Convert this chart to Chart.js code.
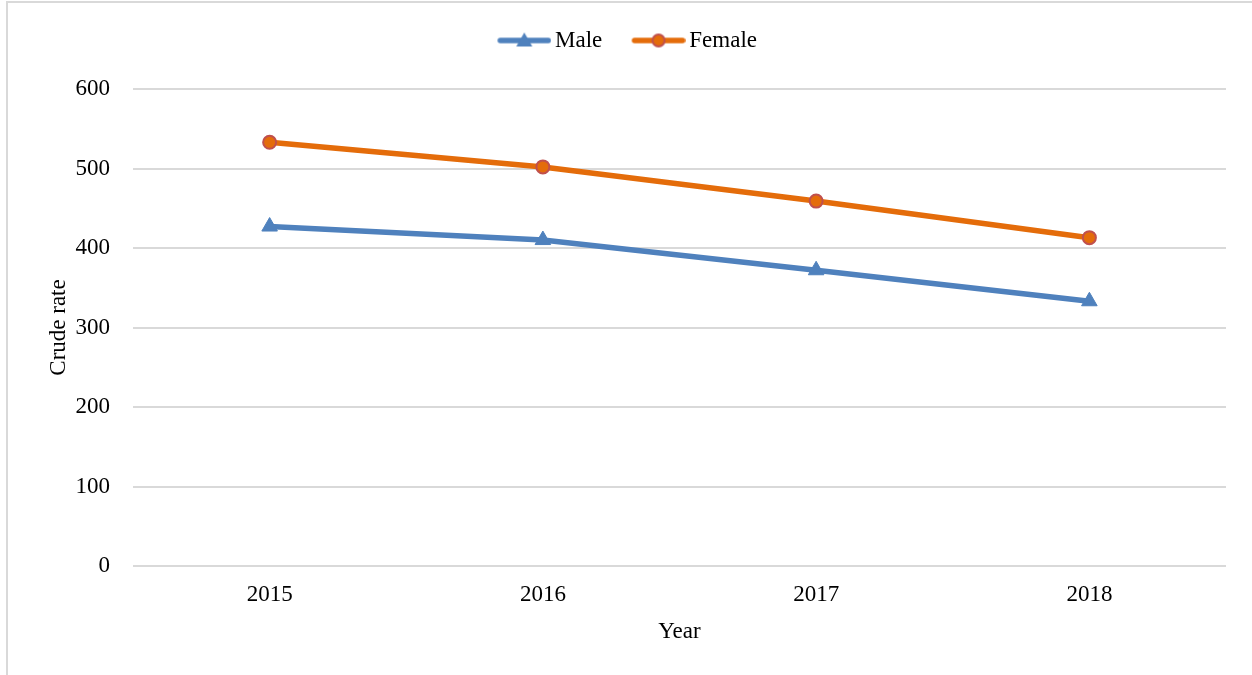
<!DOCTYPE html>
<html>
<head>
<meta charset="utf-8">
<script src="https://cdn.jsdelivr.net/npm/chart.js@4"></script>
<style>
  html, body { margin: 0; padding: 0; background: #fff; }
  #wrap { position: relative; width: 1252px; height: 675px; overflow: hidden; }
  #frame { position: absolute; left: 6px; top: 1px; right: -4px; bottom: -4px; border-left: 2px solid #d9d9d9; border-top: 2px solid #d9d9d9; }
  canvas { position: absolute; left: 0; top: 0; }
</style>
</head>
<body>
<div id="wrap">
  <div id="frame"></div>
  <canvas id="line-chart" width="1252" height="675"></canvas>
</div>
<script>
const years = ["2015", "2016", "2017", "2018"];
const male = [427, 410, 372, 333];
const female = [533, 502, 459, 413];

const maleColor = "#4f81bd";
const femaleColor = "#e46c0a";
const femaleBorder = "#c0504d";

// legend swatch: a line with the series marker on it
function swatch(color, marker) {
  const c = document.createElement("canvas");
  c.width = 62; c.height = 20;
  const g = c.getContext("2d");
  const x0 = 8, x1 = 62, mid = 35, y = 10;
  g.strokeStyle = color; g.lineWidth = 5.5; g.lineCap = "round";
  g.beginPath(); g.moveTo(x0 + 3, y); g.lineTo(x1 - 3, y); g.stroke();
  if (marker === "triangle") {
    g.fillStyle = color;
    g.beginPath(); g.moveTo(mid, y - 8); g.lineTo(mid + 8, y + 6); g.lineTo(mid - 8, y + 6); g.closePath(); g.fill();
  } else {
    g.fillStyle = femaleColor; g.strokeStyle = femaleBorder; g.lineWidth = 2;
    g.beginPath(); g.arc(mid, y, 6, 0, Math.PI * 2); g.fill(); g.stroke();
  }
  return c;
}

// extra room between the legend and the plot
const legendGap = {
  id: 'legendGap',
  beforeInit(chart) {
    const fit = chart.legend.fit;
    chart.legend.fit = function () {
      fit.bind(chart.legend)();
      this.height += 27;
    };
  }
};

const font = { family: "'Liberation Serif', 'Times New Roman', serif", size: 23 };

new Chart(document.getElementById("line-chart"), {
  type: 'line',
  data: {
    labels: years,
    datasets: [
      {
        label: "Male",
        data: male,
        borderColor: maleColor,
        backgroundColor: maleColor,
        borderWidth: 5.5,
        pointStyle: 'triangle',
        pointRadius: 9,
        pointBorderWidth: 1,
        pointBorderColor: maleColor,
        pointBackgroundColor: maleColor,
        tension: 0
      },
      {
        label: "Female",
        data: female,
        borderColor: femaleColor,
        backgroundColor: femaleColor,
        borderWidth: 5.5,
        pointStyle: 'circle',
        pointRadius: 6.5,
        pointBorderWidth: 2,
        pointBorderColor: femaleBorder,
        pointBackgroundColor: femaleColor,
        tension: 0
      }
    ]
  },
  options: {
    responsive: false,
    animation: false,
    layout: { padding: { left: 28, right: 26, top: 0, bottom: 29 } },
    plugins: {
      tooltip: { enabled: false },
      legend: {
        display: true,
        position: 'top',
        labels: {
          color: "#000",
          font: { family: font.family, size: 23, lineHeight: 1 },
          usePointStyle: true,
          pointStyleWidth: 46.5,
          padding: 29,
          generateLabels: function (chart) {
            return [
              { text: "Male", pointStyle: swatch(maleColor, "triangle"), fontColor: "#000", datasetIndex: 0, lineWidth: 0 },
              { text: "Female", pointStyle: swatch(femaleColor, "circle"), fontColor: "#000", datasetIndex: 1, lineWidth: 0 }
            ];
          }
        }
      }
    },
    scales: {
      x: {
        offset: true,
        grid: { display: false, drawTicks: false },
        border: { display: false },
        ticks: { color: "#000", font: font, padding: 15 },
        title: { display: true, text: "Year", color: "#000", font: font, padding: { top: 0, bottom: 0 } },
        afterFit(scale) { scale.height = 80; }
      },
      y: {
        min: 0,
        max: 600,
        ticks: { stepSize: 100, color: "#000", font: font, padding: 23 },
        grid: { color: "#d9d9d9", lineWidth: 2, drawTicks: false },
        border: { display: false },
        title: { display: true, text: "Crude rate", color: "#000", font: font, padding: { top: 17, bottom: 0 } },
        afterFit(scale) { scale.width = 105; }
      }
    }
  },
  plugins: [legendGap]
});
</script>
</body>
</html>
